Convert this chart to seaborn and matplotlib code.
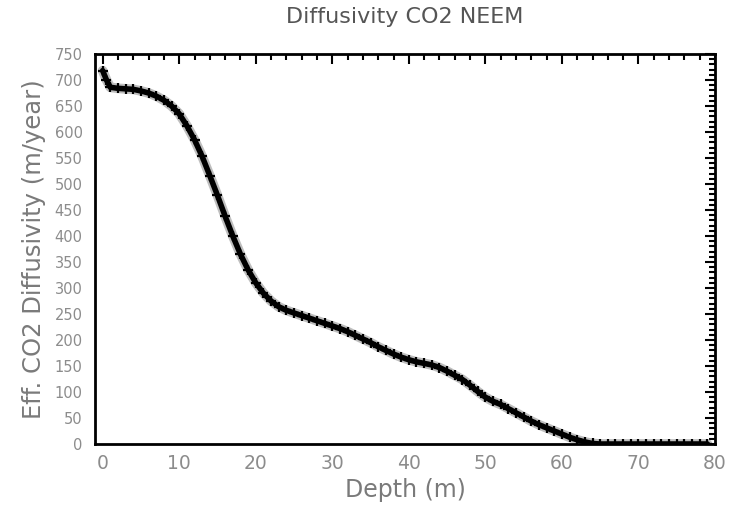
import matplotlib
matplotlib.use("Agg")
import matplotlib.pyplot as plt
from matplotlib.ticker import MultipleLocator
import pandas as pd
import seaborn as sns

# Depth (m) and effective CO2 diffusivity (m/year)
depth = [0, 0.5, 1, 2, 3, 4, 5, 6, 7, 8, 9, 10, 11, 12, 13, 14, 15, 16, 17, 18,
         19, 20, 21, 22, 23, 24, 25, 26, 27, 28, 29, 30, 31, 32, 33, 34, 35, 36,
         37, 38, 39, 40, 41, 42, 43, 44, 45, 46, 47, 48, 49, 50, 51, 52, 53, 54,
         55, 56, 57, 58, 59, 60, 61, 62, 63, 64, 65, 66, 67, 68, 69, 70, 71, 72,
         73, 74, 75, 76, 77, 78, 79]
diffusivity = [718, 700, 686, 684, 683, 682, 679, 675, 669, 661, 650, 635, 612,
               585, 553, 516, 478, 438, 400, 365, 335, 310, 290, 275, 264, 257,
               252, 247, 242, 237, 232, 227, 222, 216, 209, 202, 195, 187, 180,
               173, 167, 162, 158, 155, 152, 147, 140, 132, 124, 113, 101, 90,
               82, 76, 68, 60, 52, 44, 37, 31, 25, 19, 13, 8, 4, 1, 0, 0, 0, 0,
               0, 0, 0, 0, 0, 0, 0, 0, 0, 0, 0]

title = "Diffusivity CO2 NEEM"
xlabel = "Depth (m)"
ylabel = "Eff. CO2 Diffusivity (m/year)"

df = pd.DataFrame({"depth": depth, "diffusivity": diffusivity})

sns.set_style("white")
plt.rcParams["font.family"] = ["DejaVu Sans"]

fig = plt.figure(figsize=(7.3, 5.15), dpi=100)
ax = fig.add_axes([95 / 730, 1 - 444 / 515, 620 / 730, 390 / 515])

# grey halo first, then the thick black "+" trace on top
sns.lineplot(data=df, x="depth", y="diffusivity", ax=ax, color="#8a8a8a",
             lw=7, alpha=0.55)
sns.lineplot(data=df, x="depth", y="diffusivity", ax=ax, color="black",
             lw=4, marker="+", markersize=7, markeredgewidth=1.6,
             markeredgecolor="black")

ax.set_xlim(-1, 80)
ax.set_ylim(0, 750)
ax.xaxis.set_major_locator(MultipleLocator(10))
ax.xaxis.set_minor_locator(MultipleLocator(2))
ax.yaxis.set_major_locator(MultipleLocator(50))
ax.yaxis.set_minor_locator(MultipleLocator(10))

ax.tick_params(which="both", direction="in", top=True, right=True,
               color="black", width=1.5)
ax.tick_params(which="major", length=7.5)
ax.tick_params(which="minor", length=4.5)
ax.tick_params(axis="x", labelsize=13.5, labelcolor="#8c8c8c", pad=7)
ax.tick_params(axis="y", labelsize=10.5, labelcolor="#8c8c8c", pad=9)

for spine in ax.spines.values():
    spine.set_visible(True)
    spine.set_color("black")
    spine.set_linewidth(2)

ax.set_xlabel(xlabel, fontsize=17, color="#7a7a7a", labelpad=4)
ax.set_ylabel(ylabel, fontsize=17.5, color="#7a7a7a", labelpad=6)
fig.text(405 / 730, 1 - 17 / 515, title, fontsize=16, color="#555555",
         ha="center", va="center")

fig.savefig("out.png", dpi=100, facecolor="white")
